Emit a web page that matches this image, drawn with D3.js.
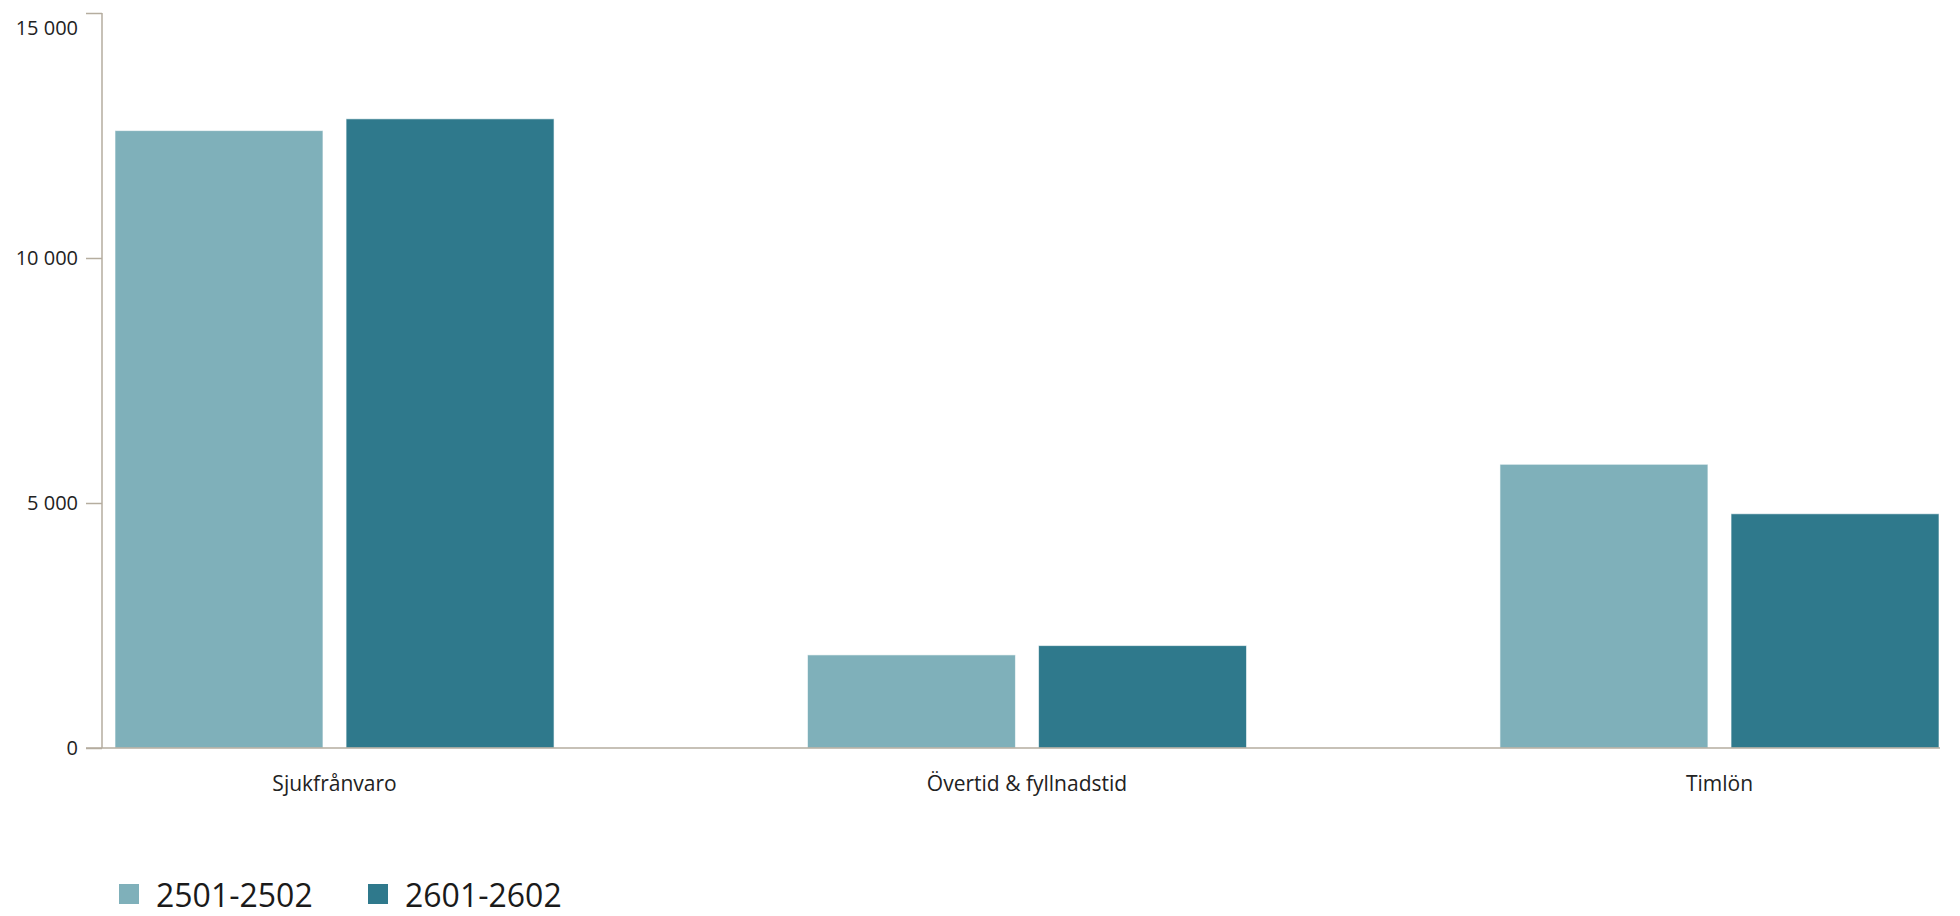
<!DOCTYPE html>
<html>
<head>
<meta charset="utf-8">
<script src="https://cdn.jsdelivr.net/npm/d3@7"></script>
<style>
  html, body { margin: 0; padding: 0; background: #fff; }
  svg { display: block; }
  text { font-family: "Open Sans", sans-serif; }
</style>
</head>
<body>
<svg id="chart" width="1960" height="916"></svg>
<script>
const categories = ["Sjukfrånvaro", "Övertid & fyllnadstid", "Timlön"];
const seriesNames = ["2501-2502", "2601-2602"];
const series2501 = [12600, 1900, 5790];
const series2601 = [12840, 2090, 4780];
const yTicks = [0, 5000, 10000, 15000];
const tickLabels = ["0", "5 000", "10 000", "15 000"];
const colors = ["#7fb0ba", "#2f798c"];

const seriesValues = [series2501, series2601];
const data = categories.map((c, i) => ({
  category: c,
  values: seriesNames.map((s, j) => ({ series: s, value: seriesValues[j][i], idx: j }))
}));

const svg = d3.select("#chart");
const axisColor = "#b5ad9f";
const axisX = 102, axisRight = 1940, plotTop = 13, plotBottom = 748;

const y = d3.scaleLinear().domain([0, 15000]).range([plotBottom, plotTop]);
const x0 = d3.scaleBand().domain(categories).range([115, 1939]).paddingInner(0.366).paddingOuter(0);
const x1 = d3.scaleBand().domain(seriesNames).range([0, x0.bandwidth()]).paddingInner(0.1).paddingOuter(0);

// Bars
const groups = svg.append("g").selectAll("g").data(data).join("g")
  .attr("transform", d => `translate(${x0(d.category)},0)`);
groups.selectAll("rect").data(d => d.values).join("rect")
  .attr("x", d => x1(d.series))
  .attr("y", d => y(d.value))
  .attr("width", x1.bandwidth())
  .attr("height", d => plotBottom - y(d.value))
  .attr("fill", d => colors[d.idx])
  .attr("stroke", "#ffffff")
  .attr("stroke-opacity", 0.6)
  .attr("stroke-width", 1);

// Y axis
const yAxis = d3.axisLeft(y).tickValues(yTicks)
  .tickFormat((d, i) => tickLabels[i]).tickSize(16).tickPadding(8);
const gy = svg.append("g").attr("transform", `translate(${axisX},0)`).call(yAxis);
gy.select(".domain").remove();
gy.selectAll(".tick line").attr("stroke", axisColor).attr("stroke-width", 1.5);
gy.selectAll(".tick text")
  .attr("font-size", 20).attr("fill", "#222")
  .attr("font-family", "Open Sans, sans-serif")
  .attr("dy", d => d === 15000 ? "1.05em" : "0.32em");
svg.append("line").attr("x1", axisX).attr("x2", axisX).attr("y1", plotTop).attr("y2", plotBottom)
  .attr("stroke", axisColor).attr("stroke-width", 1.5);

// X axis
const xAxis = d3.axisBottom(x0).tickSize(0).tickPadding(28);
const gx = svg.append("g").attr("transform", `translate(0,${plotBottom})`).call(xAxis);
gx.select(".domain").remove();
gx.selectAll(".tick text").attr("font-size", 21).attr("fill", "#222")
  .attr("font-family", "Open Sans, sans-serif");
svg.append("line").attr("x1", 86).attr("x2", axisRight).attr("y1", plotBottom).attr("y2", plotBottom)
  .attr("stroke", axisColor).attr("stroke-width", 1.5);

// Legend
const legendX = [119, 368];
const legend = svg.append("g").selectAll("g").data(seriesNames).join("g")
  .attr("transform", (d, i) => `translate(${legendX[i]},884)`);
legend.append("rect").attr("width", 20).attr("height", 20).attr("fill", (d, i) => colors[i]);
legend.append("text").attr("x", 37).attr("y", 23).attr("font-size", 32).attr("fill", "#1a1a1a")
  .text(d => d);
</script>
</body>
</html>
